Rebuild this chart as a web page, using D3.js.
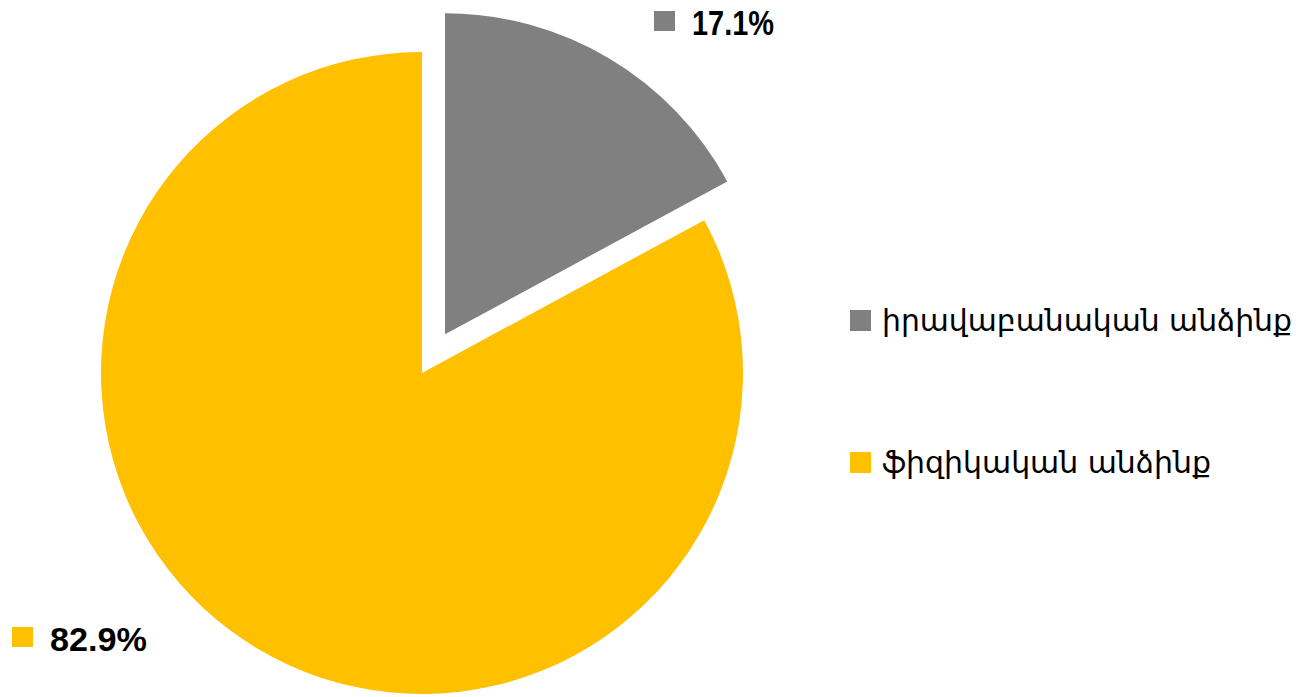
<!DOCTYPE html>
<html>
<head>
<meta charset="utf-8">
<script src="https://cdn.jsdelivr.net/npm/d3@7"></script>
<style>
  html, body { margin: 0; padding: 0; background: #fff; }
  svg { display: block; }
  .pct { font-family: "Liberation Sans", Arial, sans-serif; font-weight: bold; fill: #000; }
  .legend text { font-family: "DejaVu Sans", sans-serif; font-size: 30px; fill: #000; }
</style>
</head>
<body>
<div id="chart"></div>
<script>
// chart data
var categories = ["իրավաբանական անձինք", "ֆիզիկական անձինք"];
var values = [17.1, 82.9];
var colors = ["#808080", "#FFC000"];
var labels = ["17.1%", "82.9%"];

var width = 1301, height = 697;
var cx = 422, cy = 373, radius = 321, explode = 45;

var svg = d3.select("#chart").append("svg")
  .attr("width", width)
  .attr("height", height);

var pie = d3.pie().sort(null).value(function (d) { return d; });
var arc = d3.arc().innerRadius(0).outerRadius(radius);
var arcs = pie(values);

var g = svg.append("g").attr("transform", "translate(" + cx + "," + cy + ")");

g.selectAll("path")
  .data(arcs)
  .enter().append("path")
  .attr("d", arc)
  .attr("fill", function (d, i) { return colors[i]; })
  .attr("transform", function (d, i) {
    // only the smaller slice is pulled out
    if (i !== 0) return null;
    var a = (d.startAngle + d.endAngle) / 2;
    return "translate(" + (Math.sin(a) * explode) + "," + (-Math.cos(a) * explode) + ")";
  });

// data labels (marker + percentage)
var labelPos = [
  {x: 654, y: 35, size: 35, len: 82},
  {x: 12, y: 651, size: 33, len: 97}
];
var lbl = svg.selectAll(".pctLabel")
  .data(labels)
  .enter().append("g")
  .attr("class", "pctLabel")
  .attr("transform", function (d, i) { return "translate(" + labelPos[i].x + "," + labelPos[i].y + ")"; });

lbl.append("rect")
  .attr("x", 0).attr("y", -24)
  .attr("width", 21).attr("height", 20)
  .attr("fill", function (d, i) { return colors[i]; });

lbl.append("text")
  .attr("class", "pct")
  .attr("x", 38)
  .attr("y", 0)
  .style("font-size", function (d, i) { return labelPos[i].size + "px"; })
  .attr("textLength", function (d, i) { return labelPos[i].len; })
  .attr("lengthAdjust", "spacingAndGlyphs")
  .text(function (d) { return d; });

// legend
var legendLen = [410, 329];
var legend = svg.append("g").attr("class", "legend")
  .selectAll("g")
  .data(categories)
  .enter().append("g")
  .attr("transform", function (d, i) { return "translate(850," + (331 + i * 142) + ")"; });

legend.append("rect")
  .attr("x", 0).attr("y", -21)
  .attr("width", 21).attr("height", 21)
  .attr("fill", function (d, i) { return colors[i]; });

legend.append("text")
  .attr("x", 32)
  .attr("y", 0)
  .attr("textLength", function (d, i) { return legendLen[i]; })
  .attr("lengthAdjust", "spacingAndGlyphs")
  .text(function (d) { return d; });
</script>
</body>
</html>
